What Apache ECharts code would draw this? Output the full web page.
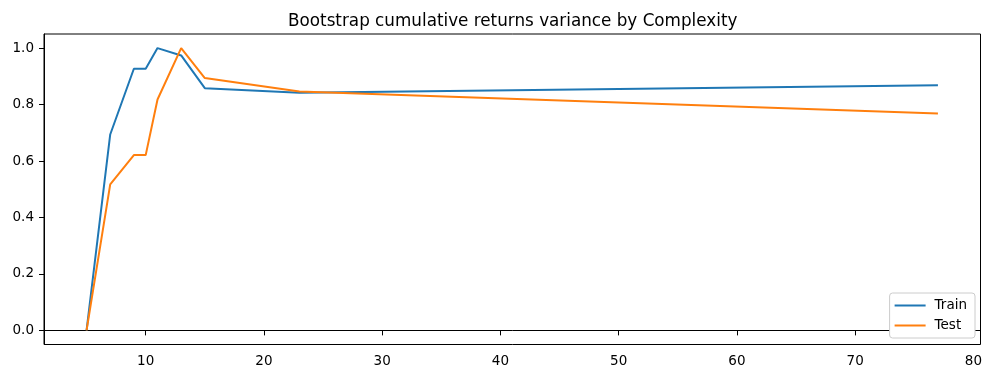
<!DOCTYPE html>
<html><head><meta charset="utf-8">
<script src="https://cdn.jsdelivr.net/npm/echarts@6/dist/echarts.min.js"></script>
<style>html,body{margin:0;padding:0;background:#fff}#c{width:985px;height:371px}</style>
</head><body><div id="c"></div>
<script>
const complexity = [5, 7, 9, 10, 11, 13, 15, 23, 77];
const trainValues = [0.0, 0.694, 0.927, 0.927, 1.0, 0.974, 0.858, 0.842, 0.868];
const testValues = [0.0, 0.517, 0.621, 0.621, 0.818, 1.0, 0.894, 0.846, 0.768];
const xTicks = [10, 20, 30, 40, 50, 60, 70, 80];
const yTicks = [0.0, 0.2, 0.4, 0.6, 0.8, 1.0];
const titleText = 'Bootstrap cumulative returns variance by Complexity';

const font = 'DejaVu Sans';
const chart = echarts.init(document.getElementById('c'), null, {renderer: 'canvas'});
chart.setOption({
  animation: false,
  backgroundColor: '#fff',
  title: {
    text: titleText, left: 288, top: 13, padding: 0,
    textStyle: {fontFamily: font, fontSize: 16.8, fontWeight: 'normal', color: '#000'}
  },
  grid: {left: 44, right: 4, top: 34, bottom: 26.5, show: true, borderColor: '#000', borderWidth: 1, backgroundColor: 'transparent'},
  legend: {
    orient: 'vertical', right: 10, bottom: 33, data: ['Train', 'Test'],
    icon: 'rect', itemWidth: 31, itemHeight: 2, itemGap: 5,
    padding: [5, 8, 5, 5],
    backgroundColor: '#fff', borderColor: '#ccc', borderWidth: 1, borderRadius: 3,
    textStyle: {fontFamily: font, fontSize: 13.5, lineHeight: 15, color: '#000', padding: [0, 0, 0, 4]}
  },
  xAxis: {
    type: 'value', min: 1.4, max: 80.6,
    axisLine: {show: true, lineStyle: {color: '#000', width: 1}},
    axisTick: {show: true, length: 5, customValues: xTicks, lineStyle: {color: '#000'}},
    axisLabel: {customValues: xTicks, margin: 10, fontFamily: font, fontSize: 13.5, color: '#000'},
    splitLine: {show: false}
  },
  yAxis: {
    type: 'value', min: -0.05, max: 1.05,
    axisLine: {show: true, lineStyle: {color: '#000', width: 1}},
    axisTick: {show: true, length: 5, customValues: yTicks, lineStyle: {color: '#000'}},
    axisLabel: {customValues: yTicks, margin: 10, fontFamily: font, fontSize: 13.5, color: '#000',
      formatter: v => Number(v).toFixed(1)},
    splitLine: {show: false}
  },
  series: [
    {name: 'Train', type: 'line', data: complexity.map((x, i) => [x, trainValues[i]]),
      showSymbol: false, lineStyle: {color: '#1f77b4', width: 2}, itemStyle: {color: '#1f77b4'}},
    {name: 'Test', type: 'line', data: complexity.map((x, i) => [x, testValues[i]]),
      showSymbol: false, lineStyle: {color: '#ff7f0e', width: 2}, itemStyle: {color: '#ff7f0e'}}
  ]
});
</script></body></html>
